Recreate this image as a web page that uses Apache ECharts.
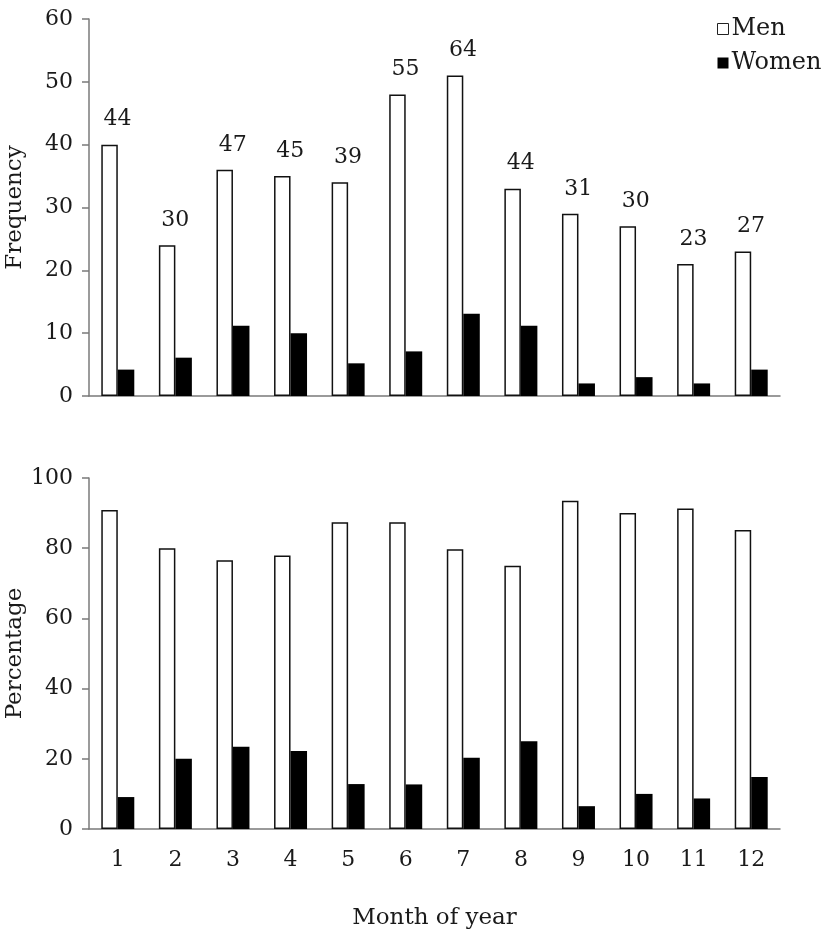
<!DOCTYPE html>
<html>
<head>
<meta charset="utf-8">
<script src="https://cdn.jsdelivr.net/npm/echarts@6/dist/echarts.min.js"></script>
<style>
  html, body { margin: 0; padding: 0; background: #fff; }
  #chart { width: 825px; height: 949px; }
</style>
</head>
<body>
<div id="chart"></div>
<script>
  // months on the x axis
  let months = ['1','2','3','4','5','6','7','8','9','10','11','12']
  // top panel: counts
  let menFreq   = [40, 24, 36, 35, 34, 48, 51, 33, 29, 27, 21, 23]
  let womenFreq = [4.2, 6.1, 11.2, 10, 5.2, 7.1, 13.1, 11.2, 2, 3, 2, 4.2]
  // numbers printed over each month
  let totals    = [44, 30, 47, 45, 39, 55, 64, 44, 31, 30, 23, 27]
  // bottom panel: percentages
  let menPct    = [90.9, 80, 76.6, 77.9, 87.4, 87.4, 79.7, 75, 93.5, 90, 91.3, 85.2]
  let womenPct  = [9.1, 20, 23.4, 22.2, 12.8, 12.7, 20.3, 25, 6.5, 10, 8.7, 14.8]

  let font = 'DejaVu Serif'
  let txt = '#1a1a1a'
  let axisGray = '#7a7a7a'

  let menStyle = { color: '#fff', borderColor: '#111', borderWidth: 1.5 }
  let womenStyle = { color: '#000' }

  function valueAxis(idx, max, interval, name, gap) {
    return {
      type: 'value',
      gridIndex: idx,
      min: 0,
      max: max,
      interval: interval,
      name: name,
      nameLocation: 'middle',
      nameGap: gap,
      nameMoveOverlap: false,
      nameTextStyle: { fontFamily: font, fontSize: 23, color: txt },
      axisLine: { show: true, lineStyle: { color: axisGray, width: 1.5 } },
      axisTick: { show: true, length: 7, lineStyle: { color: axisGray, width: 1.5 } },
      axisLabel: { fontFamily: font, fontSize: 22, color: txt, margin: 16 },
      splitLine: { show: false }
    }
  }

  function catAxis(idx, showLabels) {
    return {
      type: 'category',
      gridIndex: idx,
      data: months,
      axisLine: { lineStyle: { color: axisGray, width: 1.5 } },
      axisTick: { show: false },
      axisLabel: { show: showLabels, fontFamily: font, fontSize: 22, color: txt, margin: 20 },
      name: showLabels ? 'Month of year' : '',
      nameLocation: 'middle',
      nameGap: 78,
      nameMoveOverlap: false,
      nameTextStyle: { fontFamily: font, fontSize: 23, color: txt }
    }
  }

  let myCharts = echarts.init(document.getElementById('chart'))
  myCharts.setOption({
    animation: false,
    backgroundColor: '#fff',
    textStyle: { fontFamily: font },
    legend: {
      orient: 'vertical',
      left: 712,
      top: 12,
      itemWidth: 11,
      itemHeight: 11,
      itemGap: 10,
      textStyle: { fontFamily: font, fontSize: 24, color: txt, padding: [0, 0, 0, -2] },
      data: [
        { name: 'Men', icon: 'rect', itemStyle: { color: '#fff', borderColor: '#222', borderWidth: 1 } },
        { name: 'Women', icon: 'rect' }
      ]
    },
    grid: [
      { left: 89, right: 45, top: 19, height: 377, outerBoundsMode: 'none' },
      { left: 89, right: 45, top: 478, height: 351, outerBoundsMode: 'none' }
    ],
    xAxis: [catAxis(0, false), catAxis(1, true)],
    yAxis: [
      valueAxis(0, 60, 10, 'Frequency', 62),
      valueAxis(1, 100, 20, 'Percentage', 62)
    ],
    series: [
      {
        name: 'Men', type: 'bar', xAxisIndex: 0, yAxisIndex: 0,
        data: menFreq, barWidth: 16.5, barGap: '0%', itemStyle: menStyle,
        label: {
          show: true, position: 'top', distance: 14, offset: [8, 0],
          fontFamily: font, fontSize: 22, color: txt,
          formatter: function (p) { return totals[p.dataIndex] }
        }
      },
      {
        name: 'Women', type: 'bar', xAxisIndex: 0, yAxisIndex: 0,
        data: womenFreq, barWidth: 16.5, barGap: '0%', itemStyle: womenStyle
      },
      {
        name: 'Men', type: 'bar', xAxisIndex: 1, yAxisIndex: 1,
        data: menPct, barWidth: 16.5, barGap: '0%', itemStyle: menStyle
      },
      {
        name: 'Women', type: 'bar', xAxisIndex: 1, yAxisIndex: 1,
        data: womenPct, barWidth: 16.5, barGap: '0%', itemStyle: womenStyle
      }
    ]
  })
</script>
</body>
</html>
